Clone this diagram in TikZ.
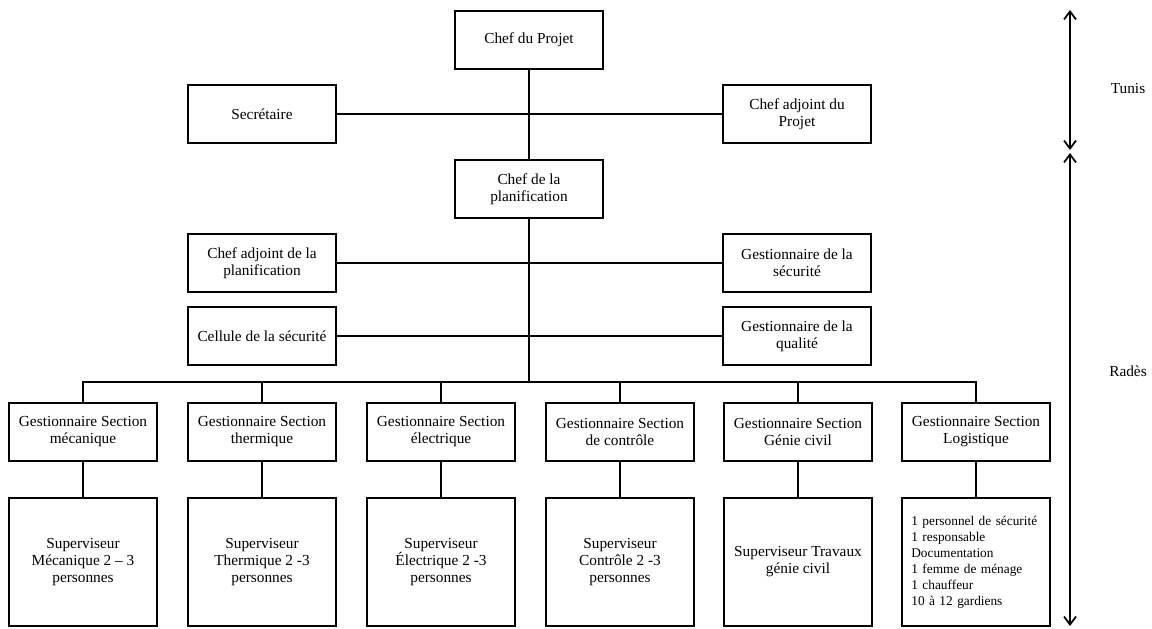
\documentclass[tikz,border=0pt]{standalone}
\usepackage{fontspec}
\setmainfont{Liberation Serif}
\usetikzlibrary{arrows.meta}

\begin{document}
\begin{tikzpicture}[x=0.75pt,y=-0.75pt,
	box/.style={draw,line width=1.3pt,minimum width=111pt,minimum height=43.5pt,
		align=center,inner sep=2pt,font=\fontsize{11.5}{12.75}\selectfont},
	tallbox/.style={box,minimum height=96pt},
	link/.style={line width=1.3pt},
	span/.style={line width=1.3pt,{Straight Barb[length=6pt,width=9pt]}-{Straight Barb[length=6pt,width=9pt]}}]
	\useasboundingbox (0,0) rectangle (1152,628);

	% direction (Tunis)
	\node[box] (chef) at (529,40) {Chef du Projet};
	\node[box] (secr) at (262,114) {Secrétaire};
	\node[box] (adjp) at (797,114) {Chef adjoint du\\Projet};
	\draw[link] (secr) -- (adjp);

	% planification (Radès)
	\node[box] (plan) at (529,189) {Chef de la\\planification};
	\node[box] (adjpl) at (262,263) {Chef adjoint de la\\planification};
	\node[box] (gsecu) at (797,263) {Gestionnaire de la\\sécurité};
	\node[box] (cell) at (262,336) {Cellule de la sécurité};
	\node[box] (gqual) at (797,336) {Gestionnaire de la\\qualité};
	\draw[link] (chef) -- (plan);
	\draw[link] (adjpl) -- (gsecu);
	\draw[link] (cell) -- (gqual);
	\coordinate (bus) at (529,382);
	\draw[link] (plan) -- (bus);

	% sections
	\foreach \i/\x/\s/\p in {
		1/83/{mécanique}/{Superviseur\\Mécanique 2 -- 3\\personnes},
		2/262/{thermique}/{Superviseur\\Thermique 2 -3\\personnes},
		3/441/{électrique}/{Superviseur\\Électrique 2 -3\\personnes},
		4/620/{de contrôle}/{Superviseur\\Contrôle 2 -3\\personnes},
		5/798/{Génie civil}/{Superviseur Travaux\\génie civil}} {
		\node[box] (sec\i) at (\x,432) {Gestionnaire Section\\\s};
		\node[tallbox] (sup\i) at (\x,562) {\p};
		\draw[link] (sec\i.north) |- (bus);
		\draw[link] (sec\i) -- (sup\i);
	}
	\node[box] (sec6) at (976,432) {Gestionnaire Section\\Logistique};
	\node[tallbox,align=left,text width=97pt,inner xsep=7pt,font=\fontsize{10}{12}\selectfont] (sup6) at (976,562)
		{1 personnel de sécurité\\1 responsable\\Documentation\\1 femme de ménage\\1 chauffeur\\10 à 12 gardiens};
	\draw[link] (sec6.north) |- (bus);
	\draw[link] (sec6) -- (sup6);

	% sites
	\coordinate (t1) at (1070,10);
	\coordinate (t2) at (1070,150);
	\coordinate (r1) at (1070,153);
	\coordinate (r2) at (1070,626);
	\draw[span] (t1) -- (t2);
	\draw[span] (r1) -- (r2);
	\node[font=\fontsize{11.5}{12.75}\selectfont] (tunis) at (1128,88) {Tunis};
	\node[font=\fontsize{11.5}{12.75}\selectfont] (rades) at (1128,371) {Radès};
\end{tikzpicture}
\end{document}
